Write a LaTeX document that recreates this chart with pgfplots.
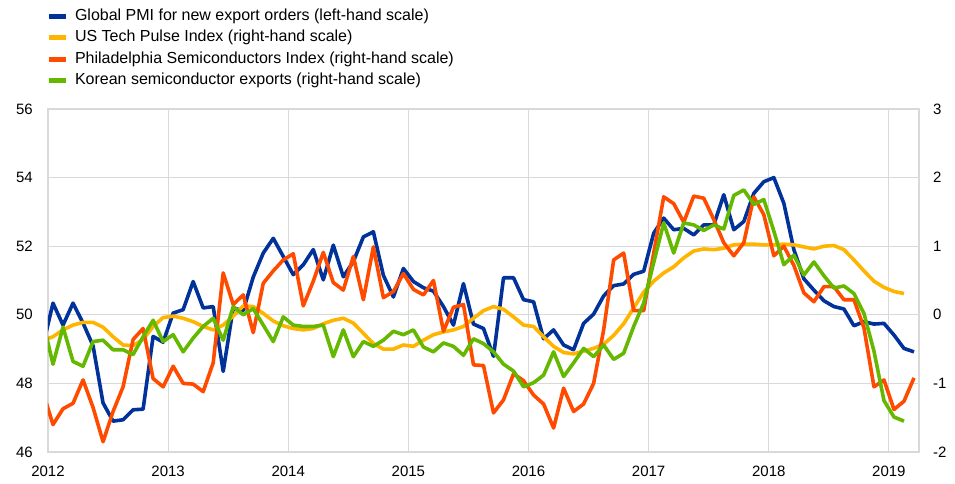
\documentclass[border=0pt]{standalone}
\usepackage{pgfplots}
\usepackage{pgfplotstable}
\pgfplotsset{compat=1.18}
\usepackage{fontspec}
\setmainfont{Liberation Sans}

\definecolor{ecbblue}{RGB}{0,50,153}
\definecolor{ecbyellow}{RGB}{255,180,0}
\definecolor{ecborange}{RGB}{255,75,0}
\definecolor{ecbgreen}{RGB}{101,184,0}
\definecolor{gridgray}{RGB}{217,217,217}

% monthly data; pmi on left scale, the rest on right scale
\pgfplotstableread{
year month pmi tech sox kor
2011 12 49.10 -0.37 -1.13 -0.10
2012 1 50.34 -0.32 -1.60 -0.72
2012 2 49.70 -0.22 -1.37 -0.18
2012 3 50.34 -0.15 -1.29 -0.68
2012 4 49.76 -0.11 -0.95 -0.75
2012 5 49.10 -0.11 -1.35 -0.39
2012 6 47.43 -0.18 -1.85 -0.37
2012 7 46.90 -0.32 -1.41 -0.51
2012 8 46.94 -0.44 -1.05 -0.51
2012 9 47.23 -0.45 -0.36 -0.58
2012 10 47.25 -0.36 -0.20 -0.32
2012 11 49.37 -0.17 -0.93 -0.08
2012 12 49.20 -0.04 -1.05 -0.39
2013 1 50.05 -0.02 -0.75 -0.29
2013 2 50.15 -0.05 -1.00 -0.54
2013 3 50.97 -0.10 -1.01 -0.34
2013 4 50.20 -0.17 -1.12 -0.17
2013 5 50.24 -0.22 -0.70 -0.05
2013 6 48.35 -0.15 0.61 -0.37
2013 7 50.20 -0.02 0.15 0.12
2013 8 50.12 0.13 0.29 0.00
2013 9 51.10 0.12 -0.26 0.09
2013 10 51.80 0.02 0.46 -0.15
2013 11 52.23 -0.09 0.64 -0.39
2013 12 51.70 -0.16 0.80 -0.03
2014 1 51.17 -0.20 0.89 -0.15
2014 2 51.46 -0.22 0.13 -0.17
2014 3 51.90 -0.20 0.49 -0.17
2014 4 51.02 -0.13 0.91 -0.15
2014 5 52.03 -0.08 0.47 -0.61
2014 6 51.11 -0.05 0.36 -0.22
2014 7 51.55 -0.12 0.85 -0.61
2014 8 52.27 -0.27 0.22 -0.39
2014 9 52.42 -0.42 0.99 -0.46
2014 10 51.15 -0.50 0.25 -0.37
2014 11 50.52 -0.50 0.34 -0.24
2014 12 51.35 -0.44 0.60 -0.29
2015 1 50.97 -0.46 0.37 -0.22
2015 2 50.79 -0.37 0.29 -0.47
2015 3 50.69 -0.29 0.50 -0.54
2015 4 50.24 -0.25 -0.24 -0.41
2015 5 49.70 -0.22 0.11 -0.46
2015 6 50.91 -0.17 0.15 -0.59
2015 7 49.73 -0.05 -0.73 -0.35
2015 8 49.60 0.06 -0.74 -0.42
2015 9 48.79 0.12 -1.43 -0.54
2015 10 51.08 0.08 -1.24 -0.72
2015 11 51.08 -0.03 -0.86 -0.82
2015 12 50.44 -0.15 -0.96 -1.05
2016 1 50.38 -0.17 -1.17 -0.99
2016 2 49.30 -0.32 -1.30 -0.88
2016 3 49.56 -0.46 -1.65 -0.54
2016 4 49.12 -0.55 -1.07 -0.90
2016 5 48.98 -0.57 -1.41 -0.70
2016 6 49.75 -0.53 -1.30 -0.49
2016 7 50.02 -0.49 -1.00 -0.61
2016 8 50.55 -0.43 -0.22 -0.44
2016 9 50.85 -0.30 0.80 -0.65
2016 10 50.90 -0.13 0.90 -0.56
2016 11 51.18 0.10 0.06 -0.17
2016 12 51.27 0.33 0.06 0.17
2017 1 52.38 0.49 0.90 0.76
2017 2 52.82 0.61 1.72 1.34
2017 3 52.48 0.70 1.62 0.90
2017 4 52.52 0.83 1.35 1.34
2017 5 52.33 0.93 1.73 1.31
2017 6 52.62 0.96 1.70 1.23
2017 7 52.62 0.95 1.39 1.31
2017 8 53.50 0.97 1.05 1.25
2017 9 52.48 1.02 0.86 1.74
2017 10 52.72 1.03 1.05 1.82
2017 11 53.54 1.03 1.72 1.61
2017 12 53.88 1.02 1.46 1.68
2018 1 54.00 1.02 0.86 1.22
2018 2 53.25 1.03 1.00 0.73
2018 3 51.90 1.02 0.72 0.87
2018 4 51.05 0.99 0.32 0.58
2018 5 50.72 0.96 0.19 0.77
2018 6 50.41 1.00 0.41 0.57
2018 7 50.24 1.01 0.41 0.39
2018 8 50.17 0.95 0.22 0.42
2018 9 49.68 0.80 0.22 0.31
2018 10 49.80 0.64 -0.19 0.02
2018 11 49.73 0.49 -1.05 -0.53
2018 12 49.75 0.40 -0.95 -1.25
2019 1 49.41 0.34 -1.38 -1.49
2019 2 49.02 0.31 -1.26 -1.55
2019 3 48.92 nan -0.92 nan
}\monthly

\pgfplotsset{
  ecbbase/.style={
    scale only axis,
    width=871pt, height=343pt,
    at={(0,0)}, anchor=south west,
    xmin=2012, xmax=2019.25,
    major tick length=0pt,
  },
  ser/.style={#1, line width=3.6pt, line join=round, mark=none},
}

\begin{document}
\fontsize{15}{18}\selectfont
\begin{tikzpicture}
\useasboundingbox (-48pt,-31pt) rectangle (907pt,452pt);
\begin{axis}[
    ecbbase,
    ymin=46, ymax=56,
    ytick={46,48,...,56},
    yticklabels={46,48,50,52,54,56},
    xtick={2012,...,2019},
    xticklabels={2012,2013,2014,2015,2016,2017,2018,2019},
    grid=major,
    grid style={gridgray, line width=1pt},
    axis line style={gridgray, line width=1.2pt},
    yticklabel style={inner sep=0pt, anchor=east, xshift=-15pt},
    xticklabel style={inner sep=0pt, anchor=north, yshift=-14pt},
]
\addplot[ser=ecbblue] table[x expr=\thisrow{year}+(\thisrow{month}-0.5)/12, y=pmi]{\monthly};
\end{axis}
\begin{axis}[
    ecbbase,
    ymin=-2, ymax=3,
    axis y line*=right, axis x line=none,
    axis line style={draw=none},
    ytick={-2,...,3},
    yticklabels={-2,-1,0,1,2,3},
    yticklabel style={inner sep=0pt, anchor=west, xshift=14pt},
    legend cell align=left,
    legend image code/.code={\draw[#1, line width=5pt] (0pt,0pt) -- (17pt,0pt);},
    legend style={draw=none, fill=none, at={(0,1)}, anchor=south west,
      inner sep=0pt, outer sep=0pt, xshift=-2pt, yshift=21pt, row sep=7pt,
      font=\fontsize{16}{19}\selectfont,
      nodes={inner sep=0pt, text height=11pt, text depth=3.5pt},
      /tikz/every odd column/.append style={column sep=7pt}},
]
\addlegendimage{ser=ecbblue}
\addlegendentry{Global PMI for new export orders (left-hand scale)}
\addplot[ser=ecbyellow] table[x expr=\thisrow{year}+(\thisrow{month}-0.5)/12, y=tech]{\monthly};
\addlegendentry{US Tech Pulse Index (right-hand scale)}
\addplot[ser=ecborange] table[x expr=\thisrow{year}+(\thisrow{month}-0.5)/12, y=sox]{\monthly};
\addlegendentry{Philadelphia Semiconductors Index (right-hand scale)}
\addplot[ser=ecbgreen] table[x expr=\thisrow{year}+(\thisrow{month}-0.5)/12, y=kor]{\monthly};
\addlegendentry{Korean semiconductor exports (right-hand scale)}
\end{axis}
\end{tikzpicture}
\end{document}
